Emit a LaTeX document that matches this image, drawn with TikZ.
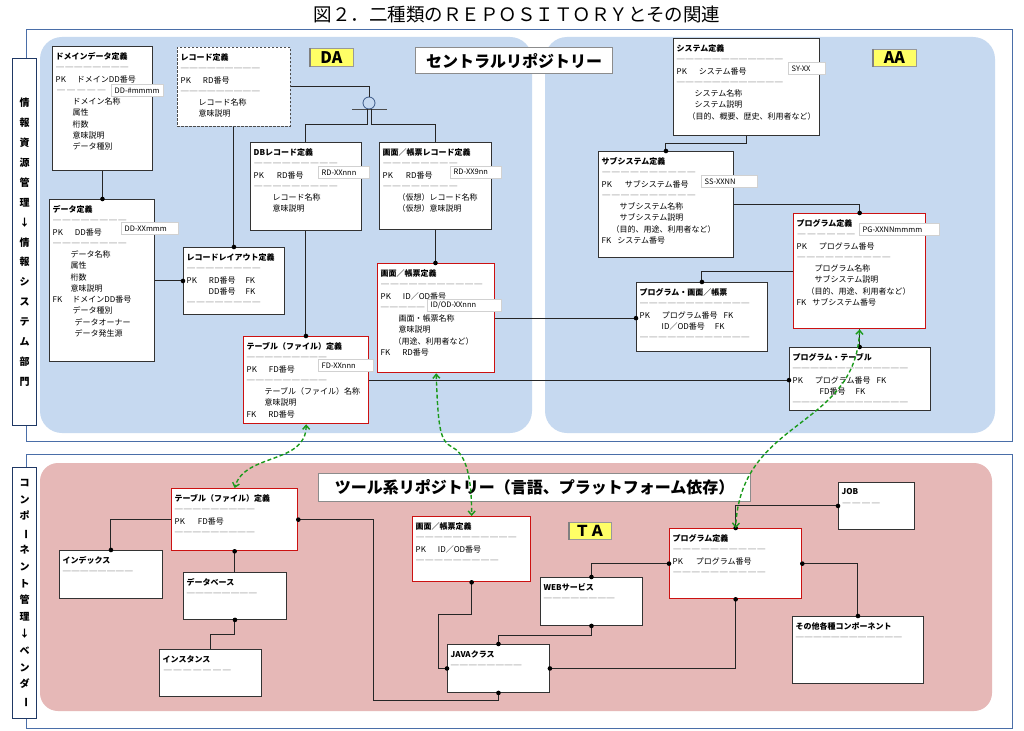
\documentclass[tikz,border=0pt]{standalone}
\usepackage{fontspec}
\setmainfont{Noto Sans CJK JP}
\usepackage{graphicx}
\usetikzlibrary{arrows.meta,calc}
\definecolor{panelblue}{HTML}{C6D9F0}
\definecolor{panelpink}{HTML}{E6B8B7}
\definecolor{framebl}{HTML}{4A6EA8}
\definecolor{navy}{HTML}{1F3864}
\definecolor{boxred}{HTML}{CC1111}
\definecolor{grn}{HTML}{1A9A1A}
\definecolor{yel}{HTML}{FFFF66}
\newcommand\sepline[1]{{\color{black!78}\hbox to #1pt{\xleaders\hbox{─\kern0.8pt}\hfill}}}
\newcommand\ind[1]{\hspace*{#1pt}}
\newcommand\erbox[7]{%
  \node[#1, minimum width=#5pt, minimum height=#6pt, anchor=north west] (#2) at (#3,#4) {};
  \node[btxt] (#2t) at ([xshift=3.5pt,yshift=-6.5pt]#2.north west) {#7};}
\newcommand\tagbox[5]{%
  \node[tagst, minimum width=#4pt, anchor=north west] (#1) at (#2,#3) {};
  \node[tagtxt, anchor=west] (#1t) at ([xshift=3.5pt]#1.west) {#5};}
\newcommand\dotat[1]{\fill[black] #1 circle (2.3pt);}
\begin{document}
\begin{tikzpicture}[x=1pt,y=-1pt,
  box/.style={rectangle, draw=black!80, line width=0.9pt, fill=white, inner sep=0pt},
  rbox/.style={box, draw=boxred, line width=1.3pt},
  dbox/.style={box, draw=black!70, dash pattern=on 2.5pt off 1.5pt},
  btxt/.style={anchor=north west, align=left, inner sep=0pt, font=\fontsize{8}{11.25}\selectfont},
  tagst/.style={rectangle, draw=black!18, fill=white, minimum height=12pt, inner sep=0pt, line width=0.6pt},
  tagtxt/.style={inner sep=0pt, font=\fontsize{7.5}{9}\selectfont},
  conn/.style={draw=black!85, line width=1pt},
  grnarr/.style={draw=grn, line width=1.4pt, dash pattern=on 4pt off 2.5pt,
     {Straight Barb[length=4pt,width=7pt]}-{Straight Barb[length=4pt,width=7pt]}},
  side/.style={rectangle, draw=navy, line width=1.4pt, fill=white, inner sep=0pt, align=center},
  banner/.style={rectangle, draw=black!45, line width=1.3pt, fill=white, inner sep=0pt, font=\fontsize{16}{16}\bfseries\selectfont},
  ylab/.style={rectangle, draw=black!40, line width=0.6pt, fill=yel, inner sep=0pt, font=\fontsize{16}{16}\bfseries\selectfont}
]
\useasboundingbox (0,0) rectangle (1024,730);
\fill[white] (0,0) rectangle (1024,730);

% title
\node[inner sep=0pt, font=\fontsize{18.5}{18.5}\selectfont] (title) at (517,14) {図２．二種類のＲＥＰＯＳＩＴＯＲＹとその関連};

% frames and panels
\draw[framebl, line width=1pt] (26,30) rectangle (1012,441);
\draw[framebl, line width=1pt] (26,454) rectangle (1012,728);
\fill[panelblue, rounded corners=22pt] (40,37) rectangle (532,433);
\fill[panelblue, rounded corners=22pt] (545,37) rectangle (995,433);
\fill[panelpink, rounded corners=18pt] (40,463) rectangle (992,711);

% side labels
\node[side, minimum width=24pt, minimum height=367pt, anchor=north west,
  font=\fontsize{10}{19.9}\bfseries\selectfont] (side1) at (12,58)
  {情\\報\\資\\源\\管\\理\\↓\\情\\報\\シ\\ス\\テ\\ム\\部\\門};
\node[side, minimum width=24pt, minimum height=251pt, anchor=north west,
  font=\fontsize{10}{16.8}\bfseries\selectfont] (side2) at (12,467)
  {コ\\ン\\ポ\\\rotatebox[origin=c]{-90}{ー}\\ネ\\ン\\ト\\管\\理\\↓\\ベ\\ン\\ダ\\\rotatebox[origin=c]{-90}{ー}};

% banners and labels
\node[banner, minimum width=197pt, minimum height=26pt, anchor=north west] (ban1) at (415,47) {セントラルリポジトリー};
\node[banner, minimum width=432pt, minimum height=28pt, anchor=north west] (ban2) at (318,473) {ツール系リポジトリー（言語、プラットフォーム依存）};
\node[ylab, minimum width=44pt, minimum height=18pt, anchor=north west] (labDA) at (309,48) {DA};
\node[ylab, minimum width=44pt, minimum height=17pt, anchor=north west] (labAA) at (872,49) {AA};
\node[ylab, minimum width=43pt, minimum height=17pt, anchor=north west, font=\fontsize{15}{15}\bfseries\selectfont] (labTA) at (568,522) {ＴＡ};
\foreach \l in {labDA,labAA,labTA}{
  \draw[black!50, line width=1.5pt] ([xshift=1pt]\l.north west) -- ([xshift=1pt]\l.south west);}

% ---- DA boxes
\erbox{box}{dom}{52}{46}{100}{124}{\textbf{ドメインデータ定義}\\ \sepline{74}\\ PK\hspace{11pt}ドメインDD番号\\ \sepline{52}\\ \ind{17}ドメイン名称\\ \ind{17}属性\\ \ind{17}桁数\\ \ind{17}意味説明\\ \ind{17}データ種別}
\erbox{dbox}{rec}{177}{47}{113}{79}{\textbf{レコード定義}\\ \sepline{80}\\ PK\hspace{12pt}RD番号\\ \sepline{80}\\ \ind{18}レコード名称\\ \ind{18}意味説明}
\erbox{box}{db}{250}{142}{111}{88}{\textbf{DBレコード定義}\\ \sepline{85}\\ PK\hspace{13pt}RD番号\\ \sepline{85}\\ \ind{19}レコード名称\\ \ind{19}意味説明}
\erbox{box}{srec}{379}{142}{112}{87}{\textbf{画面／帳票レコード定義}\\ \sepline{76}\\ PK\hspace{13pt}RD番号\\ \sepline{76}\\ \ind{15}（仮想）レコード名称\\ \ind{15}（仮想）意味説明}
\erbox{box}{dat}{49}{199}{105}{162}{\textbf{データ定義}\\ \sepline{75}\\ PK\hspace{12pt}DD番号\\ \sepline{75}\\ \ind{18}データ名称\\ \ind{18}属性\\ \ind{18}桁数\\ \ind{18}意味説明\\ FK\hspace{10pt}ドメインDD番号\\ \ind{20}データ種別\\ \ind{22}データオーナー\\ \ind{22}データ発生源}
\erbox{box}{lay}{183}{247}{101}{67}{\textbf{レコードレイアウト定義}\\ \sepline{75}\\ PK\hspace{12pt}RD番号\hspace{10pt}FK\\ \ind{22}DD番号\hspace{10pt}FK\\ \sepline{75}}
\erbox{rbox}{scr}{377}{263}{117}{109}{\textbf{画面／帳票定義}\\ \sepline{103}\\ PK\hspace{12pt}ID／OD番号\\ \sepline{45}\\ \ind{18}画面・帳票名称\\ \ind{18}意味説明\\ \ind{13}（用途、利用者など）\\ FK\hspace{12pt}RD番号}
\erbox{rbox}{tbl}{243}{336}{125}{87}{\textbf{テーブル（ファイル）定義}\\ \sepline{81}\\ PK\hspace{12pt}FD番号\\ \sepline{81}\\ \ind{18}テーブル（ファイル）名称\\ \ind{18}意味説明\\ FK\hspace{12pt}RD番号}
% ---- AA boxes
\erbox{box}{sys}{673}{38}{146}{97}{\textbf{システム定義}\\ \sepline{107}\\ PK\hspace{12pt}システム番号\\ \sepline{107}\\ \ind{18}システム名称\\ \ind{18}システム説明\\ \ind{11}（目的、概要、歴史、利用者など）}
\erbox{box}{sub}{598}{151}{135}{106}{\textbf{サブシステム定義}\\ \sepline{95}\\ PK\hspace{13pt}サブシステム番号\\ \sepline{95}\\ \ind{18}サブシステム名称\\ \ind{18}サブシステム説明\\ \ind{10}（目的、用途、利用者など）\\ FK\hspace{6pt}システム番号}
\erbox{rbox}{prog}{793}{213}{132}{115}{\textbf{プログラム定義}\\ \sepline{60}\\ PK\hspace{12pt}プログラム番号\\ \sepline{95}\\ \ind{18}プログラム名称\\ \ind{18}サブシステム説明\\ \ind{10}（目的、用途、利用者など）\\ FK\hspace{6pt}サブシステム番号}
\erbox{box}{pscr}{636}{282}{131}{69}{\textbf{プログラム・画面／帳票}\\ \sepline{111}\\ PK\hspace{12pt}プログラム番号\hspace{6pt}FK\\ \ind{22}ID／OD番号\hspace{10pt}FK\\ \sepline{111}}
\erbox{box}{pt}{789}{347}{141}{63}{\textbf{プログラム・テーブル}\\ \sepline{116}\\ PK\hspace{12pt}プログラム番号\hspace{6pt}FK\\ \ind{27}FD番号\hspace{10pt}FK\\ \sepline{116}}
% ---- TA boxes
\erbox{rbox}{ttbl}{171}{488}{126}{62}{\textbf{テーブル（ファイル）定義}\\ \sepline{81}\\ PK\hspace{13pt}FD番号\\ \sepline{81}}
\erbox{box}{idx}{59}{550}{103}{48}{\textbf{インデックス}\\ \sepline{71}}
\erbox{box}{dbase}{183}{572}{103}{47}{\textbf{データベース}\\ \sepline{71}}
\erbox{box}{inst}{159}{649}{102}{47}{\textbf{インスタンス}\\ \sepline{70}}
\erbox{rbox}{tscr}{412}{516}{118}{65}{\textbf{画面／帳票定義}\\ \sepline{102}\\ PK\hspace{12pt}ID／OD番号\\ \sepline{84}}
\erbox{box}{web}{540}{577}{102}{48}{\textbf{WEBサービス}\\ \sepline{72}}
\erbox{box}{java}{447}{644}{102}{48}{\textbf{JAVAクラス}\\ \sepline{72}}
\erbox{rbox}{tprog}{669}{528}{132}{70}{\textbf{プログラム定義}\\ \sepline{94}\\ PK\hspace{13pt}プログラム番号\\ \sepline{94}}
\erbox{box}{job}{838}{482}{76}{47}{\textbf{JOB}\\ \sepline{40}}
\erbox{box}{other}{792}{616}{131}{67}{\textbf{その他各種コンポーネント}\\ \sepline{107}}

% tags
\tagbox{tgdom}{111}{84}{52}{DD-\#mmmm}
\tagbox{tgdb}{318}{166}{51}{RD-XXnnn}
\tagbox{tgsrec}{450}{166}{51}{RD-XX9nn}
\tagbox{tgdat}{121}{222}{57}{DD-XXmmm}
\tagbox{tgscr}{427}{299}{74}{ID/OD-XXnnn}
\tagbox{tgtbl}{318}{359}{55}{FD-XXnnn}
\tagbox{tgsys}{788}{62}{37}{SY-XX}
\tagbox{tgsub}{701}{175}{56}{SS-XXNN}
\tagbox{tgprog}{859}{223}{80}{PG-XXNNmmmm}

% junction circle
\node[circle, draw=framebl!80!black, fill=panelblue, line width=0.8pt, minimum size=12pt, inner sep=0pt] (jn) at (369,103) {};

% ---- DA connectors
\draw[conn] (dom.south) -- (dom.south |- dat.north); \dotat{(dom.south |- dat.north)}
\draw[conn] (rec.south) -- (rec.south |- lay.north); \dotat{(rec.south |- lay.north)}
\draw[conn] (dat.east |- lay.west) -- (lay.west); \dotat{(lay.west)}
\draw[conn] (rec.east) -| (jn.north);
\draw[black!70, line width=0.7pt] ([xshift=-17pt,yshift=-6pt]jn.center) -- ([xshift=18pt,yshift=-6pt]jn.center);
\draw[conn] ([xshift=-2pt]jn.south) -- ++(0,15) -| (db.north);
\draw[conn] ([xshift=2pt]jn.south) -- ++(0,15) -| (srec.north);
\draw[conn] (db.south) -- (db.south |- tbl.north); \dotat{(db.south |- tbl.north)}
\draw[conn] (srec.south) -- (srec.south |- scr.north); \dotat{(srec.south |- scr.north)}
\draw[conn] (scr.east) -- (scr.east -| pscr.west); \dotat{(scr.east -| pscr.west)}
\draw[conn] (tbl.east) -- (tbl.east -| pt.west); \dotat{(tbl.east -| pt.west)}
% ---- AA connectors
\draw[conn] (sys.south) -- ++(0,8) -| (sub.north); \dotat{(sub.north)}
\draw[conn] (sub.east) -| (prog.north); \dotat{(prog.north)}
\draw[conn] (prog.west) -| (pscr.north); \dotat{(pscr.north)}
\draw[conn] (prog.south) -- (prog.south |- pt.north); \dotat{(prog.south |- pt.north)}
% ---- TA connectors
\draw[conn] (ttbl.west) -| (idx.north); \dotat{(idx.north)}
\draw[conn] (ttbl.south) -- (ttbl.south |- dbase.north); \dotat{(ttbl.south)}
\draw[conn] (dbase.south) -- ++(0,15) -| (inst.north); \dotat{(dbase.south)}
\draw[conn] (ttbl.east) -- ++(75,0) |- ([yshift=-8pt]java.south) -- (java.south); \dotat{(ttbl.east)} \dotat{(java.south)}
\draw[conn] (tscr.south) -- ++(0,32) -| ([xshift=-9pt]java.west) -- (java.west); \dotat{(tscr.south)} \dotat{(java.west)}
\draw[conn] (web.north) |- (tprog.west); \dotat{(web.north)} \dotat{(tprog.west)}
\draw[conn] (web.south) -- ++(0,10) -| (java.north); \dotat{(web.south)} \dotat{(java.north)}
\draw[conn] (java.east) -| (tprog.south); \dotat{(java.east)} \dotat{(tprog.south)}
\draw[conn] (tprog.north) |- (job.west); \dotat{(tprog.north)} \dotat{(job.west)}
\draw[conn] (tprog.east) -| (other.north); \dotat{(tprog.east)} \dotat{(other.north)}

% ---- green links
\coordinate (gB) at (452,447);
\draw[grnarr] (tbl.south) .. controls +(0,40) and +(10,-35) .. (ttbl.north);
\draw[grnarr] (scr.south) .. controls +(2,55) and +(-12,-6) .. (gB) .. controls +(12,6) and +(0,-45) .. (tscr.north);
\draw[grnarr] (prog.south) .. controls +(-4,100) and +(5,-110) .. (tprog.north);
\end{tikzpicture}
\end{document}
